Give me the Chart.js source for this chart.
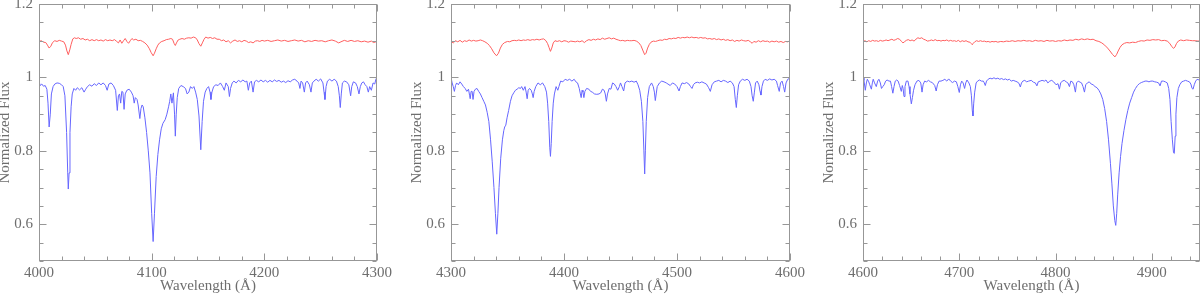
<!DOCTYPE html>
<html><head><meta charset="utf-8">
<script src="https://cdn.jsdelivr.net/npm/chart.js@4.4.0/dist/chart.umd.min.js"></script>
<style>
html,body{margin:0;padding:0;background:#fff;overflow:hidden;width:1200px;height:295px;position:relative;}
canvas{position:absolute;top:0;}
</style></head><body>
<canvas id="c1" width="397" height="295" style="left:-4px"></canvas>
<canvas id="c2" width="398" height="295" style="left:408px"></canvas>
<canvas id="c3" width="380" height="295" style="left:820px"></canvas>
<script>
// ---------- data (wavelength Å, normalized flux) ----------
const p1Blue = [[4000,0.99],[4001,0.978],[4002.5,0.982],[4004,0.976],[4005.5,0.978],[4007,0.968],[4008,0.93],[4009,0.865],[4010,0.9],[4011,0.955],[4012.5,0.975],[4014,0.982],[4016,0.985],[4018,0.984],[4020,0.98],[4021.5,0.975],[4023,0.95],[4024.5,0.85],[4025.5,0.74],[4026,0.696],[4026.7,0.74],[4027.5,0.85],[4028.5,0.92],[4029.5,0.955],[4031,0.97],[4032.5,0.965],[4034,0.972],[4036,0.966],[4038,0.972],[4040,0.96],[4041.5,0.968],[4043,0.975],[4045,0.98],[4047,0.976],[4049,0.983],[4051,0.978],[4053,0.985],[4055,0.98],[4057,0.985],[4059,0.978],[4060.5,0.965],[4062,0.982],[4064,0.985],[4066,0.978],[4068,0.965],[4069.5,0.91],[4070.5,0.95],[4071.5,0.955],[4072.5,0.93],[4073.5,0.962],[4074.5,0.96],[4075.5,0.913],[4076.5,0.955],[4078,0.965],[4080,0.968],[4082,0.96],[4083.5,0.95],[4084.5,0.93],[4085.5,0.945],[4087,0.94],[4088,0.925],[4089.5,0.888],[4090.5,0.915],[4091.5,0.925],[4092.5,0.92],[4094,0.89],[4095.5,0.85],[4097,0.8],[4098.5,0.74],[4100,0.63],[4101.3,0.553],[4102.5,0.63],[4104,0.73],[4105.5,0.79],[4107,0.83],[4108.5,0.86],[4110,0.875],[4112,0.885],[4113.5,0.9],[4115,0.92],[4116,0.935],[4117,0.955],[4118,0.93],[4119.3,0.958],[4120.3,0.9],[4121,0.84],[4121.8,0.9],[4122.7,0.945],[4124,0.97],[4126,0.978],[4128,0.975],[4130,0.97],[4131.5,0.955],[4133,0.96],[4134.5,0.975],[4136,0.97],[4137.5,0.975],[4139,0.96],[4140.5,0.94],[4142,0.895],[4143.6,0.803],[4144.8,0.88],[4146,0.935],[4147.5,0.96],[4149,0.97],[4150.5,0.975],[4151.8,0.96],[4152.6,0.94],[4153.5,0.96],[4155,0.975],[4157,0.98],[4159,0.978],[4161,0.985],[4163,0.975],[4164.5,0.965],[4166,0.985],[4168,0.975],[4169,0.948],[4170,0.97],[4171.5,0.985],[4173,0.99],[4175,0.985],[4177,0.992],[4179,0.988],[4181,0.993],[4183,0.988],[4184.5,0.99],[4185.8,0.965],[4187,0.985],[4188.5,0.99],[4190,0.96],[4191.3,0.988],[4193,0.992],[4195,0.988],[4197,0.993],[4199,0.988],[4201,0.992],[4203,0.987],[4205,0.992],[4207,0.988],[4209,0.993],[4211,0.989],[4213,0.992],[4215,0.987],[4217,0.99],[4219,0.986],[4221,0.991],[4223,0.988],[4225,0.993],[4227,0.995],[4229,0.99],[4230.5,0.985],[4231.6,0.97],[4232.6,0.99],[4234,0.985],[4235.5,0.96],[4236.6,0.985],[4238,0.99],[4240,0.98],[4241.4,0.96],[4242.6,0.985],[4244,0.99],[4246,0.995],[4248,0.99],[4250,0.996],[4252,0.985],[4253,0.96],[4253.8,0.94],[4254.8,0.975],[4256,0.99],[4258,0.995],[4260,0.99],[4262,0.995],[4264,0.99],[4265.6,0.975],[4266.6,0.95],[4267.4,0.918],[4268.3,0.955],[4269.3,0.985],[4271,0.99],[4273,0.988],[4275,0.98],[4276.6,0.95],[4277.6,0.975],[4279,0.988],[4281,0.985],[4282.5,0.975],[4284,0.955],[4285.2,0.975],[4286.5,0.985],[4288,0.988],[4289.5,0.98],[4291,0.975],[4292.3,0.96],[4293.5,0.975],[4295,0.965],[4296.5,0.985],[4298,0.982],[4299,0.995],[4300,1.0]];
const p1Red = [[4000,1.098],[4002,1.1],[4004,1.096],[4006,1.095],[4007.5,1.088],[4009,1.08],[4010.5,1.085],[4012,1.095],[4014,1.1],[4016,1.098],[4018,1.101],[4020,1.099],[4022,1.097],[4023.5,1.088],[4024.8,1.072],[4026,1.062],[4027.3,1.075],[4028.5,1.09],[4030,1.105],[4031.5,1.108],[4033,1.106],[4035,1.108],[4037,1.104],[4039,1.106],[4041,1.102],[4043,1.104],[4045,1.1],[4047,1.103],[4049,1.1],[4051,1.103],[4053,1.1],[4055,1.102],[4057,1.099],[4059,1.103],[4061,1.1],[4063,1.102],[4065,1.1],[4067,1.103],[4069,1.098],[4070.5,1.094],[4072,1.102],[4073.5,1.093],[4075,1.1],[4076.5,1.106],[4078,1.098],[4079.5,1.093],[4081,1.1],[4082.5,1.106],[4084,1.102],[4086,1.104],[4088,1.1],[4090,1.101],[4092,1.098],[4094,1.094],[4096,1.088],[4098,1.078],[4099.5,1.068],[4101.3,1.059],[4102.5,1.066],[4104,1.078],[4105.5,1.088],[4107,1.094],[4109,1.098],[4111,1.1],[4113,1.103],[4115,1.104],[4117,1.106],[4118.5,1.104],[4120,1.092],[4121,1.087],[4122,1.094],[4123.5,1.102],[4125,1.104],[4127,1.106],[4129,1.104],[4131,1.107],[4133,1.108],[4135,1.107],[4137,1.11],[4139,1.108],[4140.5,1.102],[4142,1.092],[4143.6,1.085],[4145,1.094],[4146.5,1.104],[4148,1.11],[4150,1.107],[4152,1.109],[4154,1.106],[4156,1.108],[4158,1.104],[4160,1.104],[4162,1.1],[4164,1.102],[4166,1.097],[4168,1.1],[4170,1.094],[4172,1.099],[4174,1.102],[4176,1.098],[4178,1.1],[4180,1.097],[4182,1.101],[4184,1.099],[4186,1.095],[4188,1.097],[4190,1.094],[4192,1.099],[4194,1.1],[4196,1.098],[4198,1.101],[4200,1.099],[4203,1.101],[4206,1.098],[4209,1.1],[4212,1.102],[4215,1.099],[4218,1.101],[4221,1.098],[4224,1.1],[4227,1.102],[4230,1.099],[4233,1.101],[4236,1.097],[4239,1.1],[4242,1.098],[4245,1.101],[4248,1.099],[4251,1.1],[4254,1.097],[4257,1.1],[4260,1.102],[4263,1.099],[4266,1.094],[4268,1.097],[4271,1.101],[4274,1.098],[4277,1.101],[4280,1.098],[4283,1.1],[4286,1.097],[4289,1.099],[4292,1.096],[4295,1.099],[4297,1.095],[4300,1.098]];

const p2Blue = [[4300,1.0],[4301,0.985],[4302,0.975],[4303,0.962],[4304,0.978],[4305,0.985],[4306.5,0.98],[4308,0.988],[4309.5,0.982],[4311,0.975],[4312.5,0.97],[4314,0.962],[4315.5,0.968],[4316.5,0.95],[4317,0.942],[4317.8,0.962],[4318.7,0.962],[4319.5,0.94],[4320.4,0.962],[4321.6,0.968],[4323,0.97],[4324.5,0.962],[4326,0.955],[4327.5,0.945],[4329,0.935],[4330.5,0.925],[4332,0.905],[4333.5,0.88],[4335,0.83],[4336.5,0.77],[4338,0.7],[4339.3,0.63],[4340.5,0.573],[4341.5,0.63],[4342.5,0.7],[4344,0.78],[4345.5,0.83],[4346.7,0.855],[4347.5,0.865],[4348.5,0.87],[4349.6,0.89],[4351,0.91],[4352.6,0.935],[4354,0.95],[4355.5,0.958],[4357,0.965],[4358.5,0.968],[4360,0.972],[4361.5,0.97],[4362.5,0.975],[4364,0.965],[4365.5,0.975],[4366.5,0.96],[4367.4,0.942],[4368.3,0.965],[4369.5,0.97],[4371,0.965],[4372,0.955],[4372.7,0.945],[4373.6,0.962],[4375,0.975],[4377,0.985],[4379,0.98],[4381,0.985],[4383,0.975],[4384.5,0.96],[4385.5,0.93],[4386.5,0.88],[4387.4,0.81],[4388,0.785],[4388.7,0.82],[4389.5,0.88],[4390.5,0.93],[4391.5,0.955],[4393,0.975],[4394.5,0.965],[4395.5,0.975],[4397,0.99],[4399,0.988],[4401,0.995],[4403,0.992],[4405,0.995],[4407,0.99],[4409,0.995],[4410.5,0.988],[4412,0.985],[4413.5,0.97],[4414.5,0.955],[4415.2,0.945],[4416,0.965],[4416.8,0.96],[4417.6,0.945],[4418.5,0.962],[4420,0.97],[4422,0.968],[4423.5,0.962],[4425,0.96],[4427,0.955],[4429,0.954],[4431,0.955],[4432.5,0.958],[4434,0.968],[4435.5,0.965],[4436.5,0.955],[4437.5,0.935],[4438.5,0.955],[4440,0.97],[4441.5,0.968],[4443,0.985],[4444.5,0.982],[4446,0.975],[4447.5,0.965],[4449,0.975],[4450,0.985],[4451.3,0.975],[4452.8,0.963],[4454,0.985],[4456,0.99],[4458,0.988],[4460,0.99],[4462,0.987],[4464,0.99],[4465.5,0.98],[4467,0.965],[4468.5,0.935],[4469.8,0.88],[4470.7,0.8],[4471.4,0.737],[4472,0.8],[4472.8,0.88],[4474,0.945],[4475.5,0.975],[4477.5,0.985],[4479,0.975],[4480,0.96],[4480.8,0.937],[4481.6,0.955],[4482.5,0.975],[4484.5,0.985],[4486.5,0.99],[4488.5,0.988],[4490.5,0.985],[4492,0.982],[4494,0.978],[4496,0.985],[4498,0.982],[4500,0.975],[4501.8,0.963],[4503,0.975],[4504.5,0.985],[4506.5,0.983],[4508.5,0.986],[4510.5,0.982],[4512,0.975],[4513.3,0.97],[4514.5,0.98],[4516,0.985],[4518,0.987],[4520,0.985],[4522,0.988],[4524,0.985],[4526,0.982],[4528,0.972],[4529.5,0.962],[4531,0.98],[4533,0.988],[4535,0.99],[4537,0.992],[4539,0.988],[4541,0.992],[4543,0.99],[4545,0.986],[4547,0.99],[4549,0.985],[4550.5,0.975],[4551.6,0.94],[4552.5,0.918],[4553.4,0.95],[4554.5,0.98],[4556,0.99],[4558,0.995],[4560,0.992],[4562,0.995],[4564,0.99],[4565.5,0.975],[4566.5,0.95],[4567.5,0.935],[4568.5,0.96],[4569.5,0.985],[4571,0.99],[4572.5,0.98],[4573.5,0.962],[4574.3,0.952],[4575.2,0.975],[4576.5,0.99],[4578,0.995],[4580,0.992],[4582,0.996],[4584,0.993],[4586,0.995],[4588,0.99],[4589,0.978],[4590.5,0.962],[4591.6,0.985],[4593,0.99],[4594.3,0.975],[4595.3,0.96],[4596.5,0.985],[4598,0.995],[4600,0.998]];
const p2Red = [[4300,1.098],[4302,1.094],[4304,1.1],[4306,1.097],[4308,1.101],[4310,1.096],[4312,1.1],[4314,1.098],[4316,1.102],[4318,1.099],[4320,1.101],[4322,1.099],[4324,1.1],[4326,1.102],[4328,1.1],[4330,1.097],[4332,1.093],[4334,1.087],[4336,1.078],[4338,1.067],[4340.3,1.059],[4342,1.066],[4343.7,1.08],[4345.5,1.09],[4347.5,1.095],[4350,1.098],[4352,1.097],[4354,1.1],[4356,1.101],[4358,1.1],[4360,1.102],[4362,1.1],[4364,1.102],[4366,1.101],[4368,1.103],[4370,1.101],[4372,1.103],[4374,1.102],[4376,1.104],[4378,1.102],[4380,1.104],[4382,1.105],[4384,1.1],[4385.5,1.092],[4386.7,1.082],[4388,1.071],[4389.2,1.08],[4390.5,1.094],[4392,1.1],[4394,1.098],[4396,1.1],[4398,1.097],[4400,1.1],[4402,1.099],[4404,1.096],[4406,1.099],[4408,1.098],[4410,1.097],[4412,1.099],[4414,1.097],[4416,1.1],[4418,1.095],[4420,1.1],[4422,1.103],[4424,1.101],[4426,1.104],[4428,1.102],[4430,1.105],[4432,1.103],[4434,1.107],[4436,1.104],[4438,1.106],[4440,1.108],[4442,1.105],[4444,1.107],[4446,1.104],[4448,1.102],[4450,1.1],[4452,1.101],[4454,1.099],[4456,1.101],[4458,1.1],[4460,1.1],[4462,1.101],[4464,1.099],[4466,1.095],[4468,1.087],[4470,1.072],[4471.4,1.062],[4472.6,1.066],[4474,1.08],[4475.5,1.09],[4477,1.096],[4479,1.099],[4481,1.098],[4483,1.1],[4485,1.102],[4487,1.101],[4489,1.104],[4491,1.103],[4493,1.106],[4495,1.105],[4497,1.107],[4499,1.106],[4501,1.109],[4503,1.107],[4505,1.109],[4507,1.108],[4509,1.11],[4511,1.108],[4513,1.11],[4515,1.108],[4517,1.109],[4519,1.107],[4521,1.109],[4523,1.107],[4525,1.108],[4527,1.105],[4529,1.106],[4531,1.104],[4533,1.106],[4535,1.103],[4537,1.105],[4539,1.102],[4541,1.104],[4543,1.101],[4545,1.103],[4547,1.1],[4549,1.102],[4551,1.098],[4553,1.101],[4555,1.099],[4557,1.102],[4559,1.1],[4561,1.099],[4563,1.101],[4565,1.097],[4566.5,1.093],[4568,1.098],[4570,1.096],[4572,1.1],[4574,1.097],[4576,1.1],[4578,1.098],[4580,1.099],[4582,1.096],[4584,1.099],[4586,1.097],[4588,1.099],[4590,1.096],[4592,1.098],[4594,1.095],[4596,1.098],[4598,1.097],[4600,1.1]];

const p3Blue = [[4600,1.0],[4601,0.992],[4602.4,0.965],[4603.5,0.985],[4604.5,0.995],[4606,0.988],[4607,0.98],[4608.7,0.968],[4609.7,0.985],[4610.6,0.995],[4612,0.985],[4613.8,0.975],[4615.2,0.99],[4616.5,0.995],[4618,0.985],[4619.2,0.97],[4620.5,0.975],[4622,0.98],[4623.5,0.99],[4625,0.993],[4627,0.99],[4628.5,0.99],[4629.7,0.975],[4631,0.957],[4632.2,0.975],[4633.5,0.99],[4635,0.993],[4636.5,0.99],[4638,0.978],[4639.8,0.962],[4640.8,0.978],[4641.6,0.97],[4642.6,0.948],[4643.6,0.975],[4645,0.99],[4646.7,0.99],[4647.8,0.975],[4648.8,0.955],[4650.2,0.928],[4651.3,0.945],[4652.5,0.965],[4654,0.98],[4656,0.99],[4658,0.992],[4660,0.985],[4661.3,0.96],[4662.4,0.98],[4664,0.99],[4666,0.988],[4668,0.992],[4670,0.988],[4672,0.986],[4674.5,0.978],[4676,0.963],[4677.3,0.98],[4679,0.99],[4681,0.99],[4683,0.992],[4685,0.995],[4687,0.99],[4689,0.996],[4691,0.99],[4693,0.986],[4695,0.99],[4697,0.988],[4698.5,0.975],[4700,0.959],[4701.2,0.98],[4702.5,0.99],[4704,0.985],[4705.5,0.97],[4706.7,0.985],[4708,0.993],[4710,0.985],[4711.5,0.975],[4712.6,0.95],[4713.5,0.91],[4714.2,0.895],[4715,0.93],[4716,0.96],[4717.5,0.985],[4719,0.99],[4721,0.993],[4723,0.99],[4725,0.99],[4726,0.985],[4727,0.978],[4728.3,0.99],[4730,0.995],[4732,0.998],[4734,0.996],[4736,0.999],[4738,0.996],[4740,0.998],[4742,0.995],[4744,0.997],[4746,0.994],[4748,0.996],[4750,0.993],[4752,0.995],[4754,0.99],[4756,0.992],[4758,0.99],[4760,0.988],[4762,0.984],[4763.4,0.974],[4764.6,0.985],[4766,0.99],[4768,0.992],[4770,0.988],[4772,0.99],[4774.7,0.992],[4777,0.987],[4779,0.985],[4780.6,0.977],[4782,0.988],[4784,0.99],[4786,0.992],[4788.5,0.99],[4790,0.993],[4792,0.985],[4794,0.99],[4796,0.992],[4798,0.988],[4800.5,0.98],[4802.5,0.983],[4804,0.968],[4805.3,0.985],[4807,0.99],[4809,0.992],[4811,0.988],[4812.8,0.985],[4814.4,0.975],[4815.8,0.99],[4817.5,0.988],[4819,0.98],[4820.6,0.96],[4821.8,0.985],[4823.5,0.99],[4825.5,0.987],[4827,0.985],[4828.5,0.975],[4830,0.96],[4831.3,0.98],[4833,0.985],[4835,0.988],[4837,0.982],[4839,0.98],[4841,0.975],[4843,0.972],[4845,0.965],[4847,0.955],[4849,0.94],[4851,0.915],[4853,0.88],[4855,0.83],[4857,0.765],[4858.5,0.71],[4860,0.65],[4861.5,0.61],[4862.5,0.597],[4863.5,0.63],[4864.5,0.68],[4866,0.74],[4867.5,0.785],[4869,0.82],[4871,0.855],[4873,0.885],[4875,0.91],[4877,0.93],[4879,0.945],[4881,0.96],[4883,0.97],[4885,0.978],[4887,0.983],[4889,0.986],[4891,0.988],[4893,0.99],[4895,0.99],[4897,0.988],[4899,0.99],[4901,0.99],[4903,0.988],[4905,0.987],[4907,0.985],[4908.5,0.977],[4910,0.99],[4912,0.99],[4914,0.988],[4916,0.985],[4917.5,0.97],[4918.8,0.94],[4920,0.88],[4921.3,0.83],[4922.5,0.795],[4923.3,0.793],[4924.2,0.84],[4925,0.9],[4926,0.945],[4927.5,0.97],[4929,0.98],[4931,0.988],[4933,0.99],[4935,0.992],[4937,0.99],[4939,0.988],[4940.5,0.982],[4941.8,0.97],[4942.8,0.968],[4944,0.98],[4945.5,0.99],[4947,0.995],[4948.5,0.993],[4950,0.998]];
const p3Red = [[4600,1.098],[4602,1.1],[4604,1.097],[4606,1.1],[4608,1.098],[4610,1.101],[4612,1.099],[4614,1.1],[4616,1.098],[4618,1.101],[4620,1.099],[4622,1.1],[4624,1.102],[4626,1.1],[4628,1.102],[4630,1.104],[4632,1.101],[4634,1.103],[4636,1.106],[4638,1.104],[4640,1.098],[4641.5,1.094],[4643,1.097],[4645,1.101],[4647,1.103],[4649,1.1],[4651,1.102],[4653,1.099],[4655,1.104],[4657,1.108],[4659,1.106],[4661,1.108],[4663,1.104],[4665,1.102],[4667,1.099],[4669,1.1],[4671,1.102],[4673,1.1],[4675,1.103],[4677,1.1],[4679,1.101],[4681,1.099],[4683,1.101],[4685,1.1],[4687,1.102],[4689,1.099],[4691,1.101],[4693,1.099],[4695,1.1],[4697,1.098],[4699,1.101],[4701,1.097],[4703,1.1],[4705,1.098],[4707,1.1],[4709,1.097],[4711,1.096],[4712.5,1.092],[4713.5,1.089],[4714.5,1.093],[4716,1.097],[4718,1.1],[4720,1.098],[4722,1.1],[4724,1.098],[4726,1.099],[4728,1.097],[4730,1.098],[4732,1.096],[4734,1.098],[4736,1.097],[4738,1.098],[4740,1.096],[4743,1.098],[4746,1.097],[4749,1.099],[4752,1.098],[4755,1.1],[4758,1.098],[4761,1.1],[4764,1.099],[4767,1.101],[4770,1.099],[4773,1.1],[4776,1.098],[4779,1.101],[4782,1.099],[4785,1.1],[4788,1.098],[4791,1.101],[4794,1.099],[4797,1.1],[4800,1.098],[4803,1.1],[4806,1.099],[4809,1.102],[4812,1.1],[4815,1.102],[4818,1.101],[4821,1.104],[4824,1.102],[4827,1.105],[4830,1.103],[4833,1.105],[4836,1.103],[4839,1.104],[4842,1.1],[4845,1.098],[4848,1.094],[4851,1.088],[4854,1.08],[4856.5,1.072],[4859,1.063],[4861.7,1.056],[4863.5,1.063],[4865,1.072],[4867,1.082],[4869,1.089],[4871.5,1.093],[4874,1.095],[4877,1.094],[4880,1.096],[4883,1.095],[4886,1.098],[4889,1.1],[4892,1.099],[4895,1.102],[4898,1.101],[4901,1.103],[4904,1.102],[4907,1.103],[4910,1.1],[4913,1.101],[4916,1.099],[4918.5,1.093],[4920.5,1.085],[4922.5,1.079],[4924,1.083],[4925.5,1.092],[4927.5,1.099],[4930,1.102],[4933,1.1],[4936,1.102],[4939,1.101],[4942,1.1],[4945,1.1],[4948,1.099],[4950,1.1]];

// axis ranges and tick labels
const p1XRange = [4000, 4300];
const p2XRange = [4300, 4600];
const p3XRange = [4600, 4950];
const p1XTicks = [4000, 4100, 4200, 4300];
const p2XTicks = [4300, 4400, 4500, 4600];
const p3XTicks = [4600, 4700, 4800, 4900];
const yRange = [0.5, 1.2];
const yTicks = [0.6, 0.8, 1, 1.2];
const yTickLabels = ['0.6', '0.8', '1', '1.2'];
const xMinorStep = 20;
const yMinorStep = 0.05;
const xTitle = 'Wavelength (Å)';
const yTitle = 'Normalized Flux';

// ---------- styling ----------
const BLUE = '#6666ff';
const RED = '#ff5e5e';
const AXIS = '#979797';
const TXT = '#6e6e6e';
const FONT = '"Liberation Serif", "DejaVu Serif", serif';

const framePlugin = {
  id: 'frame',
  afterDraw(chart, args, opts) {
    const {ctx, chartArea: a, scales: {x, y}} = chart;
    const xMaj = (opts && opts.major) || [];
    ctx.save();
    ctx.strokeStyle = AXIS;
    ctx.lineWidth = 1;
    const L = Math.round(a.left) + 0.5, R = Math.round(a.right) - 0.5;
    const T = Math.round(a.top) + 0.5, B = Math.round(a.bottom) - 0.5;
    ctx.strokeRect(L, T, R - L, B - T);
    ctx.beginPath();
    const nx = Math.round((x.max - x.min) / xMinorStep);
    for (let k = 0; k <= nx; k++) {
      const v = x.min + k * xMinorStep;
      const px = Math.round(x.getPixelForValue(v)) + 0.5;
      const len = xMaj.some(t => Math.abs(t - v) < 1e-6) ? 7 : 4;
      ctx.moveTo(px, B); ctx.lineTo(px, B - len);
      ctx.moveTo(px, T); ctx.lineTo(px, T + len);
    }
    const ny = Math.round((y.max - y.min) / yMinorStep);
    for (let k = 0; k <= ny; k++) {
      const v = y.min + k * yMinorStep;
      const py = Math.round(y.getPixelForValue(v)) + 0.5;
      const len = yTicks.some(t => Math.abs(t - v) < 1e-6) ? 7 : 4;
      ctx.moveTo(L, py); ctx.lineTo(L + len, py);
      ctx.moveTo(R, py); ctx.lineTo(R - len, py);
    }
    ctx.stroke();
    ctx.restore();
  }
};

function makeChart(id, blue, red, xRange, xTicks, rightPad) {
  return new Chart(document.getElementById(id), {
    type: 'line',
    data: {
      datasets: [
        {data: red.map(p => ({x: p[0], y: p[1]})), borderColor: RED, borderWidth: 1, pointRadius: 0, tension: 0, fill: false},
        {data: blue.map(p => ({x: p[0], y: p[1]})), borderColor: BLUE, borderWidth: 1, pointRadius: 0, tension: 0, fill: false}
      ]
    },
    options: {
      responsive: false,
      animation: false,
      devicePixelRatio: 1,
      layout: {padding: {top: 4, right: rightPad, left: 0, bottom: 0}},
      plugins: {legend: {display: false}, tooltip: {enabled: false}, frame: {major: xTicks}},
      scales: {
        x: {
          type: 'linear', min: xRange[0], max: xRange[1],
          grid: {display: false, drawTicks: false},
          border: {display: false},
          afterBuildTicks: s => { s.ticks = xTicks.map(v => ({value: v})); },
          ticks: {padding: 3, color: TXT, font: {family: FONT, size: 15}, maxRotation: 0, autoSkip: false,
                  callback: v => String(v)},
          title: {display: true, text: xTitle, color: TXT, font: {family: FONT, size: 15, lineHeight: 1.2}, padding: {top: 0, bottom: 0}},
          afterFit: s => { s.height = 34; s.paddingLeft = 0; s.paddingRight = 0; }
        },
        y: {
          type: 'linear', min: yRange[0], max: yRange[1],
          grid: {display: false, drawTicks: false},
          border: {display: false},
          afterBuildTicks: s => { s.ticks = yTicks.map(v => ({value: v})); },
          ticks: {padding: 6, color: TXT, font: {family: FONT, size: 15}, autoSkip: false,
                  callback: v => yTickLabels[yTicks.indexOf(v)]},
          title: {display: true, text: yTitle, color: TXT, font: {family: FONT, size: 15, lineHeight: 1.2}, padding: {top: 0, bottom: 0}},
          afterFit: s => { s.width = 43; s.paddingTop = 0; s.paddingBottom = 0; }
        }
      }
    },
    plugins: [framePlugin]
  });
}

makeChart('c1', p1Blue, p1Red, p1XRange, p1XTicks, 16);
makeChart('c2', p2Blue, p2Red, p2XRange, p2XTicks, 16);
makeChart('c3', p3Blue, p3Red, p3XRange, p3XTicks, 0);
</script>
</body></html>
